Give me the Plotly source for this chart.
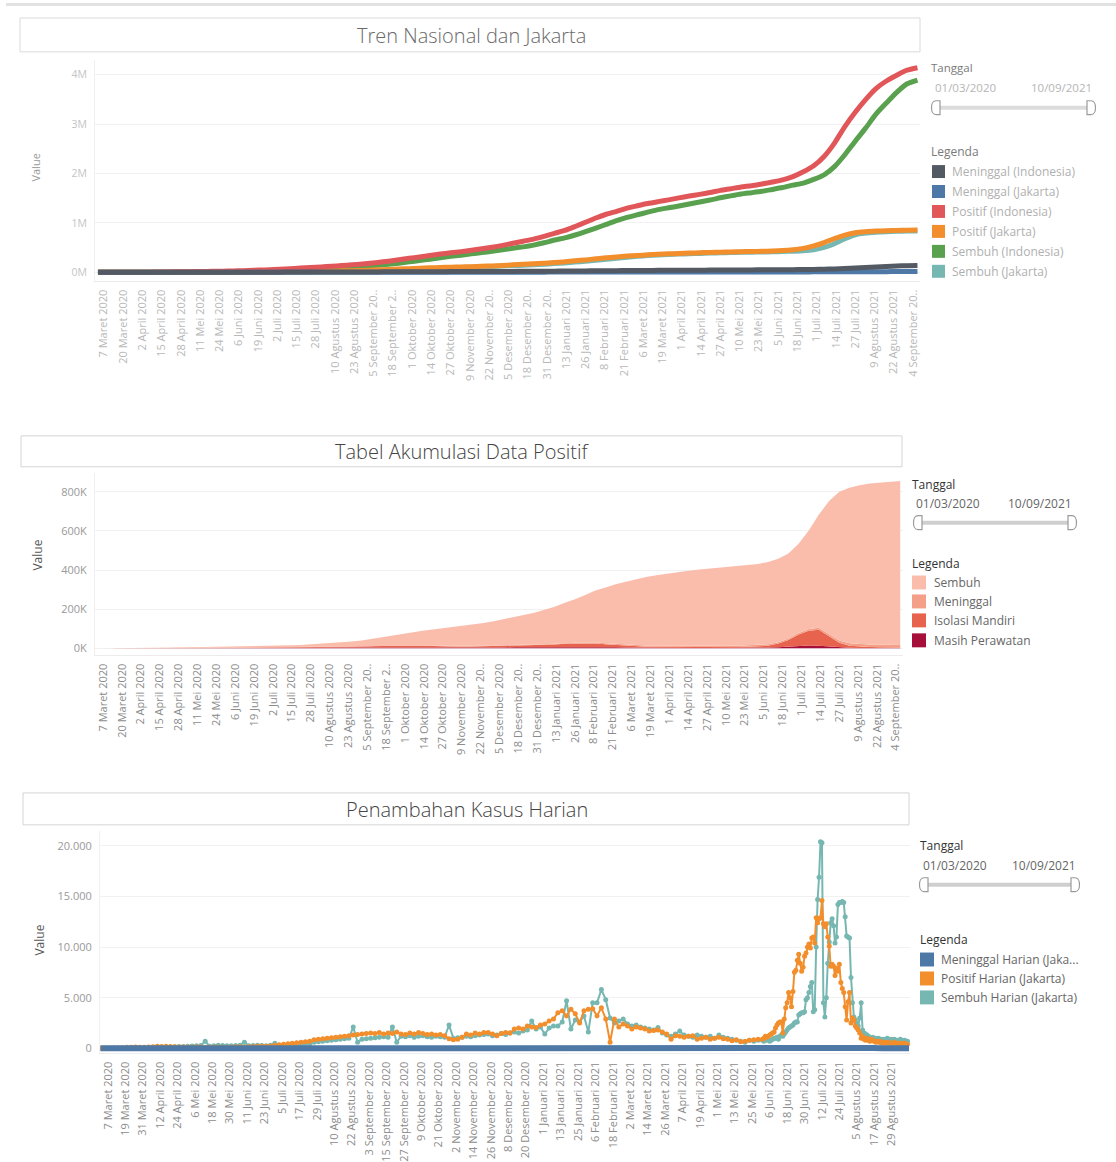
import pandas as pd
import plotly.graph_objects as go

W, H = 1116, 1162
FONT = "Open Sans"

def fx(x):
    return x / W

def fy(y):
    return 1 - y / H

# ---------------- data: weekly cumulative values (thousands) ----------------
week_start = "2020-03-03"

idn_positif = [
    0.002, 0.027, 0.172, 0.686, 1.528, 2.738, 4.839, 7.135, 9.511, 12.071,
    14.749, 18.496, 23.165, 27.549, 33.076, 40.400, 47.896, 56.385, 66.226, 78.572,
    89.869, 102.051, 115.056, 128.776, 143.043, 157.859, 177.571, 200.035, 225.030, 252.923,
    282.724, 311.176, 340.622, 368.842, 396.454, 418.375, 444.348, 474.455, 506.302, 543.975,
    586.842, 629.429, 671.778, 727.122, 788.402, 846.765, 927.380, 1012.350, 1099.687, 1174.779,
    1233.959, 1298.608, 1347.026, 1392.945, 1430.458, 1465.928, 1505.775, 1542.516, 1577.526, 1614.849,
    1657.035, 1691.658, 1728.204, 1753.101, 1786.187, 1826.527, 1869.325, 1937.652, 2033.421, 2156.465,
    2345.018, 2615.529, 2950.058, 3239.936, 3496.700, 3718.821, 3871.738, 3989.060, 4089.801, 4140.634]

idn_sembuh = [
    0, 0, 0.009, 0.030, 0.081, 0.204, 0.426, 0.842, 1.254, 2.197,
    3.287, 4.467, 5.877, 7.935, 11.414, 15.703, 19.658, 24.806, 30.801, 37.636,
    48.466, 60.539, 71.405, 83.710, 96.306, 112.867, 128.057, 142.958, 161.065, 184.298,
    210.437, 236.437, 265.269, 292.880, 322.248, 345.566, 373.440, 398.636, 425.313, 455.748,
    488.271, 514.064, 549.339, 596.783, 652.513, 696.132, 754.883, 822.112, 893.799, 970.705,
    1047.676, 1110.829, 1164.328, 1216.520, 1267.851, 1304.936, 1341.314, 1381.677, 1423.626, 1461.898,
    1507.395, 1546.998, 1582.954, 1610.148, 1638.503, 1676.949, 1716.079, 1763.579, 1806.311, 1880.413,
    1973.388, 2139.601, 2379.487, 2653.878, 2918.103, 3201.030, 3426.413, 3641.607, 3816.238, 3891.675]

idn_meninggal = [
    0, 0.001, 0.005, 0.055, 0.136, 0.221, 0.459, 0.635, 0.773, 0.872,
    1.007, 1.221, 1.418, 1.649, 1.923, 2.231, 2.535, 2.876, 3.309, 3.710,
    4.459, 4.838, 5.452, 5.824, 6.207, 6.858, 7.505, 8.230, 8.965, 9.837,
    10.601, 11.472, 12.268, 12.734, 13.411, 14.044, 14.836, 15.296, 16.111, 17.199,
    18.000, 19.111, 20.257, 21.703, 23.296, 24.645, 26.590, 28.468, 30.277, 31.976,
    33.596, 35.166, 36.518, 37.757, 38.915, 39.865, 40.754, 41.815, 42.906, 43.777,
    45.116, 46.137, 47.823, 48.669, 49.627, 50.723, 51.992, 53.753, 55.594, 57.561,
    61.140, 68.219, 77.583, 86.835, 97.291, 108.571, 118.833, 127.214, 133.023, 137.782]

jkt_positif = [
    0, 0.01, 0.08, 0.39, 0.75, 1.37, 2.33, 3.26, 4.03, 4.77,
    5.44, 6.06, 6.83, 7.78, 8.55, 9.28, 10.28, 11.82, 13.36, 15.47,
    17.57, 20.47, 23.45, 26.93, 31.12, 35.40, 40.31, 48.81, 57.91, 66.23,
    73.31, 81.36, 89.56, 95.90, 102.69, 107.67, 113.45, 121.03, 128.89, 138.61,
    150.15, 161.66, 173.29, 181.40, 197.40, 212.49, 232.80, 250.20, 272.10, 295.10,
    310.30, 327.70, 340.70, 353.20, 364.00, 373.30, 381.20, 388.30, 395.20, 400.80,
    405.90, 412.00, 417.00, 420.20, 425.60, 431.10, 440.80, 458.20, 484.40, 533.70,
    601.50, 683.80, 752.10, 799.50, 820.40, 833.20, 842.00, 847.50, 851.70, 854.70]

jkt_meninggal = [
    0, 0, 0.005, 0.03, 0.083, 0.133, 0.216, 0.288, 0.371, 0.404,
    0.433, 0.475, 0.513, 0.526, 0.542, 0.564, 0.599, 0.641, 0.671, 0.706,
    0.753, 0.804, 0.856, 0.912, 0.993, 1.058, 1.108, 1.277, 1.448, 1.615,
    1.729, 1.814, 1.926, 2.031, 2.115, 2.197, 2.280, 2.383, 2.491, 2.638,
    2.785, 2.924, 3.076, 3.235, 3.387, 3.518, 3.693, 3.981, 4.295, 4.626,
    4.923, 5.217, 5.477, 5.750, 5.961, 6.100, 6.224, 6.359, 6.476, 6.570,
    6.676, 6.804, 6.941, 7.062, 7.170, 7.298, 7.442, 7.636, 7.907, 8.338,
    9.066, 10.070, 11.228, 12.310, 12.882, 13.205, 13.360, 13.432, 13.475, 13.505]

jkt_sembuh = [
    0, 0, 0.005, 0.02, 0.067, 0.137, 0.214, 0.372, 0.659, 1.066,
    1.607, 2.085, 2.717, 3.554, 4.308, 5.116, 6.081, 7.379, 8.689, 10.364,
    12.017, 13.866, 15.594, 18.518, 22.127, 25.842, 29.702, 36.533, 43.462, 51.115,
    58.081, 66.546, 75.134, 81.869, 89.575, 96.473, 103.170, 109.647, 116.399, 124.972,
    134.365, 143.736, 154.214, 163.165, 176.013, 188.972, 206.107, 222.219, 242.805, 265.474,
    284.377, 304.483, 323.223, 338.450, 350.039, 359.700, 367.976, 375.441, 382.224, 388.230,
    393.224, 399.196, 403.559, 406.638, 410.430, 414.802, 420.358, 426.564, 434.493, 455.362,
    502.434, 578.730, 678.872, 759.190, 794.518, 811.495, 822.140, 828.568, 833.725, 837.195]

jkt_perawatan = [
    0, 0.01, 0.05, 0.2, 0.35, 0.6, 1.0, 1.3, 1.5, 1.6,
    1.6, 1.5, 1.5, 1.5, 1.4, 1.3, 1.3, 1.4, 1.5, 1.6,
    1.8, 2.1, 2.6, 2.8, 3.0, 3.2, 3.6, 4.2, 5.0, 5.2,
    5.1, 4.9, 4.6, 4.3, 3.9, 3.2, 2.9, 3.2, 3.5, 3.9,
    4.5, 5.1, 5.4, 5.0, 5.8, 6.3, 7.0, 7.2, 7.4, 7.3,
    6.2, 5.4, 3.8, 3.0, 2.7, 2.5, 2.4, 2.3, 2.3, 2.1,
    2.1, 2.1, 2.2, 2.2, 2.6, 3.0, 4.0, 6.0, 9.0, 12.0,
    14.0, 13.0, 9.0, 5.0, 3.0, 2.2, 1.8, 1.5, 1.3, 1.2]

jkt_isolasi = [
    0, 0, 0.02, 0.14, 0.25, 0.5, 0.9, 1.3, 1.5, 1.7,
    1.8, 2.0, 2.1, 2.2, 2.3, 2.3, 2.3, 2.4, 2.5, 2.8,
    3.0, 3.7, 4.4, 4.7, 5.0, 5.3, 5.9, 6.8, 8.0, 8.3,
    8.4, 8.1, 7.9, 7.7, 7.1, 5.8, 5.1, 5.8, 6.5, 7.1,
    8.5, 9.9, 10.6, 10.0, 12.2, 13.7, 16.0, 16.8, 17.6, 17.7,
    14.8, 12.6, 8.2, 6.0, 5.3, 5.0, 4.6, 4.2, 4.2, 3.9,
    3.9, 3.9, 4.3, 4.3, 5.4, 6.0, 9.0, 18.0, 33.0, 58.0,
    76.0, 82.0, 53.0, 23.0, 10.0, 6.3, 4.7, 4.0, 3.2, 2.8]

# ---------------- data: daily additions in Jakarta ----------------
# segment A: every 3 days from 2 March 2020; segment B: daily from 1 June 2021
seg_a_start = "2020-03-02"
seg_b_start = "2021-06-01"

positif_harian_a = [
    0, 5, 15, 20, 40, 60, 90, 100, 120, 90,
    110, 130, 150, 190, 170, 200, 170, 150, 130, 120,
    130, 110, 150, 120, 100, 110, 130, 120, 90, 110,
    120, 140, 160, 130, 150, 180, 200, 190, 210, 230,
    300, 350, 400, 450, 500, 550, 600, 650, 700, 850,
    900, 950, 1000, 1050, 1100, 1150, 1200, 1250, 1300, 1350,
    1400, 1450, 1500, 1450, 1550, 1400, 1500, 1450, 1600, 1400,
    1350, 1500, 1400, 1550, 1450, 1350, 1400, 1300, 1350, 1250,
    950, 850, 900, 1100, 1400, 1300, 1500, 1400, 1550, 1550,
    1400, 1250, 1450, 1550, 1500, 1900, 2000, 1900, 2200, 2100,
    2050, 2300, 2400, 2700, 2900, 3500, 3700, 3200, 3850, 3400,
    2500, 3700, 3850, 3900, 3200, 4000, 2900, 600, 2900, 2100,
    2400, 2200, 1900, 2100, 2000, 1900, 1700, 1750, 1800, 1600,
    1400, 900, 1250, 1200, 1100, 1200, 1250, 900, 1000, 1080,
    900, 1000, 1080, 950, 900, 750, 850, 650, 700, 800,
    850, 900]

positif_harian_b = [
    900, 1000, 1200, 1100, 1200, 1300, 1400, 1500, 1600, 2000,
    2300, 2500, 2600, 2600, 1500, 2900, 4000, 4500, 5500, 5000,
    4100, 5600, 7500, 7700, 8700, 9300, 8400, 7600, 8000, 9100,
    9400, 10000, 10300, 9900, 10900, 11000, 10400, 12900, 12400, 12800,
    12900, 14600, 12300, 12000, 12300, 11000, 10100, 8100, 8300, 8100,
    7200, 7900, 7600, 8300, 6500, 5900, 5500, 4100, 2800, 4600,
    5500, 2500, 3000, 2800, 2200, 2000, 1800, 1500, 1000, 1200,
    900, 800, 1000, 800, 700, 900, 800, 700, 600, 700,
    600, 700, 500, 600, 500, 600, 500, 600, 500, 400,
    500, 600, 500, 400, 500, 400, 500, 400, 500, 400,
    400]

sembuh_harian_a = [
    0, 0, 0, 0, 5, 10, 10, 20, 30, 40,
    40, 50, 60, 80, 90, 110, 130, 150, 170, 180,
    200, 220, 250, 280, 690, 200, 250, 300, 270, 260,
    250, 280, 300, 600, 250, 270, 300, 280, 260, 300,
    500, 300, 320, 350, 330, 380, 400, 420, 450, 600,
    650, 700, 750, 800, 850, 900, 950, 1000, 2100, 600,
    900, 950, 1000, 1050, 1100, 1150, 1100, 2100, 600, 1200,
    1150, 1250, 1100, 1200, 1250, 1150, 1100, 1200, 1150, 1100,
    2300, 1000, 1050, 1100, 1200, 1150, 1250, 1300, 1350, 1400,
    1250, 1300, 1450, 1350, 1500, 1600, 1500, 1700, 1800, 2700,
    1900, 2100, 1400, 2000, 2200, 2200, 2600, 4700, 1900, 2800,
    2600, 3200, 1600, 4500, 4500, 5800, 4800, 3000, 2500, 2700,
    2900, 2400, 2200, 2300, 2100, 2000, 1900, 1800, 2060, 1500,
    1300, 1200, 1400, 1700, 1300, 1200, 1100, 1300, 1200, 1100,
    1200, 1000, 1300, 1100, 1000, 900, 800, 700, 600, 800,
    700, 800]

sembuh_harian_b = [
    800, 700, 900, 800, 900, 700, 800, 900, 1000, 1000,
    1100, 900, 1200, 1300, 1200, 1400, 1600, 1800, 2000, 2100,
    2200, 2300, 2500, 2600, 2600, 3300, 3400, 3500, 3500, 3600,
    4800, 5000, 5500, 6100, 6500, 3600, 3800, 10000, 14700, 16900,
    20400, 20300, 4500, 3100, 5000, 8400, 10500, 12400, 12800, 12100,
    10400, 11000, 14200, 14400, 14400, 14500, 14400, 13000, 11100, 11000,
    10900, 7000, 4500, 3100, 2800, 2500, 2200, 3000, 4500, 1800,
    1500, 1400, 1300, 1200, 1100, 1000, 1100, 900, 1000, 900,
    1000, 900, 800, 900, 800, 900, 1000, 900, 800, 900,
    800, 900, 800, 700, 800, 900, 800, 700, 800, 700,
    700]

# weekly from 2 March 2020 (plus a last value on 10 September 2021)
meninggal_harian_start = "2020-03-02"
meninggal_harian = [
    0, 1, 5, 12, 15, 18, 20, 15, 12, 8,
    6, 5, 5, 4, 4, 5, 5, 6, 5, 6,
    7, 8, 8, 10, 12, 10, 15, 24, 25, 22,
    18, 14, 15, 15, 12, 12, 12, 15, 15, 20,
    22, 20, 22, 24, 22, 22, 30, 42, 45, 48,
    43, 42, 38, 35, 25, 20, 18, 18, 16, 14,
    15, 18, 20, 17, 15, 18, 20, 28, 40, 62,
    104, 145, 165, 155, 82, 46, 22, 10, 6, 4]
meninggal_harian_last_date = "2021-09-10"
meninggal_harian_last = 4

# ---------------- tick labels ----------------
ticks13_dates = [
    "2020-03-07", "2020-03-20", "2020-04-02", "2020-04-15", "2020-04-28", "2020-05-11",
    "2020-05-24", "2020-06-06", "2020-06-19", "2020-07-02", "2020-07-15", "2020-07-28",
    "2020-08-10", "2020-08-23", "2020-09-05", "2020-09-18", "2020-10-01", "2020-10-14",
    "2020-10-27", "2020-11-09", "2020-11-22", "2020-12-05", "2020-12-18", "2020-12-31",
    "2021-01-13", "2021-01-26", "2021-02-08", "2021-02-21", "2021-03-06", "2021-03-19",
    "2021-04-01", "2021-04-14", "2021-04-27", "2021-05-10", "2021-05-23", "2021-06-05",
    "2021-06-18", "2021-07-01", "2021-07-14", "2021-07-27", "2021-08-09", "2021-08-22",
    "2021-09-04"]
ticks13_labels = [
    "7 Maret 2020", "20 Maret 2020", "2 April 2020", "15 April 2020", "28 April 2020",
    "11 Mei 2020", "24 Mei 2020", "6 Juni 2020", "19 Juni 2020", "2 Juli 2020",
    "15 Juli 2020", "28 Juli 2020", "10 Agustus 2020", "23 Agustus 2020", "5 September 20..",
    "18 September 2..", "1 Oktober 2020", "14 Oktober 2020", "27 Oktober 2020",
    "9 November 2020", "22 November 20..", "5 Desember 2020", "18 Desember 20..",
    "31 Desember 20..", "13 Januari 2021", "26 Januari 2021", "8 Februari 2021",
    "21 Februari 2021", "6 Maret 2021", "19 Maret 2021", "1 April 2021", "14 April 2021",
    "27 April 2021", "10 Mei 2021", "23 Mei 2021", "5 Juni 2021", "18 Juni 2021",
    "1 Juli 2021", "14 Juli 2021", "27 Juli 2021", "9 Agustus 2021", "22 Agustus 2021",
    "4 September 20.."]

ticks12_dates = [
    "2020-03-07", "2020-03-19", "2020-03-31", "2020-04-12", "2020-04-24", "2020-05-06",
    "2020-05-18", "2020-05-30", "2020-06-11", "2020-06-23", "2020-07-05", "2020-07-17",
    "2020-07-29", "2020-08-10", "2020-08-22", "2020-09-03", "2020-09-15", "2020-09-27",
    "2020-10-09", "2020-10-21", "2020-11-02", "2020-11-14", "2020-11-26", "2020-12-08",
    "2020-12-20", "2021-01-01", "2021-01-13", "2021-01-25", "2021-02-06", "2021-02-18",
    "2021-03-02", "2021-03-14", "2021-03-26", "2021-04-07", "2021-04-19", "2021-05-01",
    "2021-05-13", "2021-05-25", "2021-06-06", "2021-06-18", "2021-06-30", "2021-07-12",
    "2021-07-24", "2021-08-05", "2021-08-17", "2021-08-29"]
ticks12_labels = [
    "7 Maret 2020", "19 Maret 2020", "31 Maret 2020", "12 April 2020", "24 April 2020",
    "6 Mei 2020", "18 Mei 2020", "30 Mei 2020", "11 Juni 2020", "23 Juni 2020",
    "5 Juli 2020", "17 Juli 2020", "29 Juli 2020", "10 Agustus 2020", "22 Agustus 2020",
    "3 September 2020", "15 September 2020", "27 September 2020", "9 Oktober 2020",
    "21 Oktober 2020", "2 November 2020", "14 November 2020", "26 November 2020",
    "8 Desember 2020", "20 Desember 2020", "1 Januari 2021", "13 Januari 2021",
    "25 Januari 2021", "6 Februari 2021", "18 Februari 2021", "2 Maret 2021",
    "14 Maret 2021", "26 Maret 2021", "7 April 2021", "19 April 2021", "1 Mei 2021",
    "13 Mei 2021", "25 Mei 2021", "6 Juni 2021", "18 Juni 2021", "30 Juni 2021",
    "12 Juli 2021", "24 Juli 2021", "5 Agustus 2021", "17 Agustus 2021", "29 Agustus 2021"]

y1_ticks = [0, 1e6, 2e6, 3e6, 4e6]
y1_labels = ["0M", "1M", "2M", "3M", "4M"]
y2_ticks = [0, 200e3, 400e3, 600e3, 800e3]
y2_labels = ["0K", "200K", "400K", "600K", "800K"]
y3_ticks = [0, 5000, 10000, 15000, 20000]
y3_labels = ["0", "5.000", "10.000", "15.000", "20.000"]

# ---------------- styles ----------------
C_MEN_IDN = "#545a64"
C_MEN_JKT = "#4e79a7"
C_POS_IDN = "#e15759"
C_POS_JKT = "#f28e2b"
C_SEM_IDN = "#59a14f"
C_SEM_JKT = "#76b7b2"
C_A_SEMBUH = "#fabdac"
C_A_MENINGGAL = "#f4a089"
C_A_ISOLASI = "#e8634d"
C_A_RAWAT = "#a50f3a"

weeks = pd.date_range(week_start, periods=len(idn_positif), freq="7D")
K = 1000.0

def scale(vals):
    return [v * K for v in vals]

fig = go.Figure()

# ----- Chart 1: lines (later traces drawn on top) -----
chart1 = [
    ("Sembuh (Jakarta)", jkt_sembuh, C_SEM_JKT),
    ("Sembuh (Indonesia)", idn_sembuh, C_SEM_IDN),
    ("Positif (Jakarta)", jkt_positif, C_POS_JKT),
    ("Positif (Indonesia)", idn_positif, C_POS_IDN),
    ("Meninggal (Jakarta)", jkt_meninggal, C_MEN_JKT),
    ("Meninggal (Indonesia)", idn_meninggal, C_MEN_IDN),
]
for name, vals, col in chart1:
    fig.add_trace(go.Scatter(x=weeks, y=scale(vals), name=name, mode="lines",
                             line=dict(color=col, width=5, shape="spline", smoothing=0.6),
                             xaxis="x", yaxis="y", showlegend=False))

# ----- Chart 2: stacked areas -----
chart2 = [
    ("Masih Perawatan", jkt_perawatan, C_A_RAWAT),
    ("Isolasi Mandiri", jkt_isolasi, C_A_ISOLASI),
    ("Meninggal", jkt_meninggal, C_A_MENINGGAL),
    ("Sembuh", jkt_sembuh, C_A_SEMBUH),
]
for name, vals, col in chart2:
    fig.add_trace(go.Scatter(x=weeks, y=scale(vals), name=name, mode="lines",
                             stackgroup="one", line=dict(width=0, color=col),
                             fillcolor=col, xaxis="x2", yaxis="y2", showlegend=False))

# ----- Chart 3: daily lines with markers -----
dates_a = pd.date_range(seg_a_start, periods=len(positif_harian_a), freq="3D")
dates_b = pd.date_range(seg_b_start, periods=len(positif_harian_b), freq="D")
daily_x = list(dates_a) + list(dates_b)
men_x = list(pd.date_range(meninggal_harian_start, periods=len(meninggal_harian), freq="7D"))
men_x.append(pd.Timestamp(meninggal_harian_last_date))
men_y = meninggal_harian + [meninggal_harian_last]

fig.add_trace(go.Scatter(x=daily_x, y=sembuh_harian_a + sembuh_harian_b,
                         name="Sembuh Harian (Jakarta)", mode="lines+markers",
                         line=dict(color=C_SEM_JKT, width=2), marker=dict(size=5, color=C_SEM_JKT),
                         xaxis="x3", yaxis="y3", showlegend=False))
fig.add_trace(go.Scatter(x=daily_x, y=positif_harian_a + positif_harian_b,
                         name="Positif Harian (Jakarta)", mode="lines+markers",
                         line=dict(color=C_POS_JKT, width=2), marker=dict(size=5, color=C_POS_JKT),
                         xaxis="x3", yaxis="y3", showlegend=False))
fig.add_trace(go.Scatter(x=men_x, y=men_y,
                         name="Meninggal Harian (Jakarta)", mode="lines",
                         line=dict(color=C_MEN_JKT, width=6),
                         xaxis="x3", yaxis="y3", showlegend=False))

# ---------------- axes ----------------
def xaxis(dom, rng, tv, tt, anchor, color, size=11):
    return dict(domain=[fx(dom[0]), fx(dom[1])], type="date", range=rng, anchor=anchor,
                tickmode="array", tickvals=tv, ticktext=tt, tickangle=-90,
                tickfont=dict(family=FONT, size=size, color=color),
                showgrid=False, zeroline=False, showline=True, linecolor="#ececec",
                ticks="outside", ticklen=3, tickcolor="rgba(0,0,0,0)", fixedrange=True)

def yaxis(dom, rng, tv, tt, anchor, color, size=11):
    return dict(domain=[fy(dom[1]), fy(dom[0])], range=rng, anchor=anchor,
                tickmode="array", tickvals=tv, ticktext=tt,
                tickfont=dict(family=FONT, size=size, color=color),
                showgrid=True, gridcolor="#f1f1f1", gridwidth=1, zeroline=False,
                showline=True, linecolor="#f0f0f0",
                ticks="outside", ticklen=5, tickcolor="rgba(0,0,0,0)", fixedrange=True)

layout = dict(
    width=W, height=H, margin=dict(l=0, r=0, t=0, b=0),
    paper_bgcolor="white", plot_bgcolor="white",
    font=dict(family=FONT),
    hovermode=False,
    xaxis=xaxis((95, 920), ["2020-03-01 00:00", "2021-09-08 17:00"], ticks13_dates,
                ticks13_labels, "y", "#b8b8b8", 11),
    yaxis=yaxis((60, 282), [-0.182e6, 4.30e6], y1_ticks, y1_labels, "x", "#c4c4c4", 10.5),
    xaxis2=xaxis((95, 903), ["2020-03-01 10:00", "2021-09-08 22:00"], ticks13_dates,
                 ticks13_labels, "y2", "#8c8c8c"),
    yaxis2=yaxis((474, 657), [-35.7e3, 896.8e3], y2_ticks, y2_labels, "x2", "#999999"),
    xaxis3=xaxis((100, 910), ["2020-03-01 12:00", "2021-09-10 16:00"], ticks12_dates,
                 ticks12_labels, "y3", "#8c8c8c"),
    yaxis3=yaxis((833, 1056), [-493, 21478], y3_ticks, y3_labels, "x3", "#999999"),
)
fig.update_layout(**layout)

# ---------------- decorations: titles, legends, sliders ----------------
shapes = []
anns = []

def text(x, y, s, size, color, xanchor="left", yanchor="middle", weight="normal", angle=0):
    anns.append(dict(x=fx(x), y=fy(y), xref="paper", yref="paper", text=s, showarrow=False,
                     xanchor=xanchor, yanchor=yanchor, textangle=angle,
                     font=dict(family=FONT, size=size, color=color, weight=weight)))

def rect(x0, y0, x1, y1, fill=None, line=None, lw=1):
    shapes.append(dict(type="rect", xref="paper", yref="paper",
                       x0=fx(x0), x1=fx(x1), y0=fy(y1), y1=fy(y0),
                       fillcolor=fill if fill else "rgba(0,0,0,0)",
                       line=dict(color=line if line else "rgba(0,0,0,0)", width=lw if line else 0)))

def handle(xc, yc, side, col):
    h = 7
    if side < 0:
        xf, xe, xr = xc + 3, xc - 1, xc - 7
    else:
        xf, xe, xr = xc - 3, xc + 1, xc + 7
    path = (f"M {fx(xf)},{fy(yc - h)} L {fx(xe)},{fy(yc - h)} "
            f"C {fx(xr)},{fy(yc - h)} {fx(xr)},{fy(yc + h)} {fx(xe)},{fy(yc + h)} "
            f"L {fx(xf)},{fy(yc + h)} Z")
    shapes.append(dict(type="path", xref="paper", yref="paper", path=path,
                       fillcolor="white", line=dict(color=col, width=1.2)))

def slider_block(x_lab, y_tanggal, y_dates, dx0, dx1, y_slider, sx0, sx1, lab_col, date_col, track_col, size=12):
    text(x_lab, y_tanggal, "Tanggal", size, lab_col)
    text(dx0, y_dates, "01/03/2020", size, date_col)
    text(dx1, y_dates, "10/09/2021", size, date_col, xanchor="right")
    rect(sx0, y_slider - 2, sx1, y_slider + 2, fill=track_col)
    handle(sx0, y_slider, -1, "#9a9a9a")
    handle(sx1, y_slider, 1, "#9a9a9a")

def legend_block(x_lab, y_leg, items, sw_x, txt_x, lab_col, txt_col, sw=13, size=12):
    text(x_lab, y_leg, "Legenda", size, lab_col)
    for (label, col, y) in items:
        rect(sw_x, y - sw / 2, sw_x + sw, y + sw / 2, fill=col)
        text(txt_x, y, label, size, txt_col)

# top separator
rect(6, 3, 1116, 6, fill="#e2e2e2")

# Chart 1
rect(20, 18, 920, 52, line="#dadada")
text(471, 36, "Tren Nasional dan Jakarta", 20, "#6a6a6a", xanchor="center", weight=300)
text(36, 168, "Value", 11, "#9a9a9a", xanchor="center", angle=-90)
slider_block(929, 68, 88, 933, 1094, 108, 937, 1090, "#7a7a7a", "#b5b5b5", "#dcdcdc", 11.5)
legend_block(929, 152, [
    ("Meninggal (Indonesia)", C_MEN_IDN, 172),
    ("Meninggal (Jakarta)", C_MEN_JKT, 192),
    ("Positif (Indonesia)", C_POS_IDN, 212),
    ("Positif (Jakarta)", C_POS_JKT, 232),
    ("Sembuh (Indonesia)", C_SEM_IDN, 252),
    ("Sembuh (Jakarta)", C_SEM_JKT, 272),
], 932, 950, "#7a7a7a", "#b0b0b0", 13, 12)

# Chart 2
rect(21, 437, 902, 468, line="#d4d4d4")
text(462, 453, "Tabel Akumulasi Data Positif", 20, "#444444", xanchor="center", weight=300)
text(38, 557, "Value", 12, "#555555", xanchor="center", angle=-90)
slider_block(910, 486, 505, 914, 1074, 524, 919, 1071, "#333333", "#666666", "#cfcfcf")
legend_block(910, 565, [
    ("Sembuh", C_A_SEMBUH, 584),
    ("Meninggal", C_A_MENINGGAL, 603),
    ("Isolasi Mandiri", C_A_ISOLASI, 622),
    ("Masih Perawatan", C_A_RAWAT, 642),
], 912, 932, "#333333", "#666666", 14)

# Chart 3
rect(23, 795, 909, 827, line="#d4d4d4")
text(467, 812, "Penambahan Kasus Harian", 20, "#444444", xanchor="center", weight=300)
text(40, 943, "Value", 12, "#555555", xanchor="center", angle=-90)
slider_block(918, 848, 868, 921, 1078, 887, 925, 1074, "#333333", "#666666", "#cfcfcf")
legend_block(918, 942, [
    ("Meninggal Harian (Jaka...", C_MEN_JKT, 962),
    ("Positif Harian (Jakarta)", C_POS_JKT, 981),
    ("Sembuh Harian (Jakarta)", C_SEM_JKT, 1000),
], 920, 939, "#333333", "#666666", 14)

fig.update_layout(shapes=shapes, annotations=anns)

# remove the default page margin so the figure sits at the window's top-left corner
fig.write_html("out.html", config={"displayModeBar": False},
               post_script="document.body.style.margin='0';document.body.style.overflow='hidden';")
